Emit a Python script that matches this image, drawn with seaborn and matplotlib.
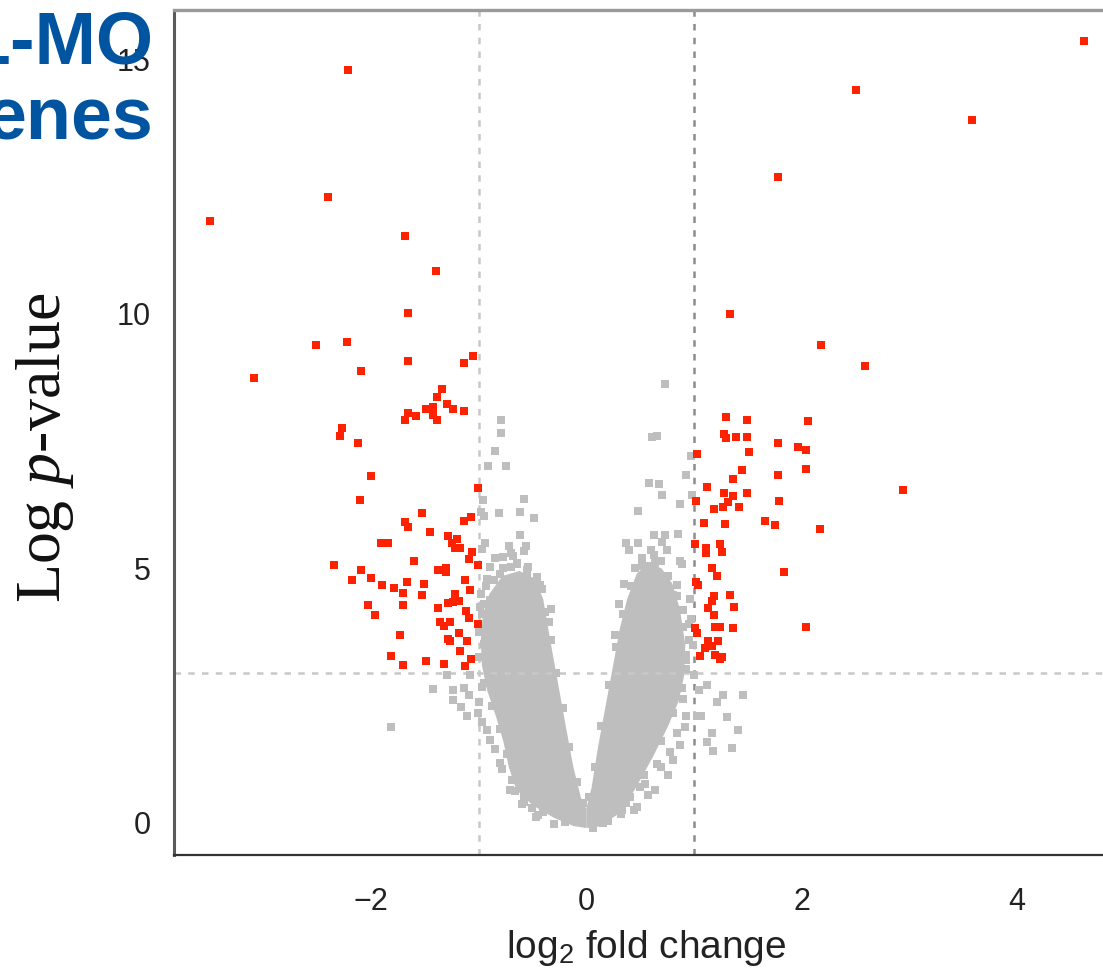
import matplotlib
matplotlib.use("Agg")
import matplotlib.pyplot as plt
import seaborn as sns
import pandas as pd

# ---------------- data ----------------
# significant genes (red)
sig_lfc = [-3.50, -2.40, -2.21, -1.68, -1.40, -1.66, -2.51, -2.22, -1.66, -1.14, -1.05, -3.09, -2.09,
           -1.34, -1.39, -1.49, -1.42, -1.29, -1.24, -1.14, -1.66, -1.68, -1.58, -1.42, -1.39, -2.27,
           -2.29, -2.12, -2.00, -2.10, -1.01, -1.53, -1.68, -1.66, -1.14, -1.07, -1.45, -1.91, -1.84,
           -1.28, -1.20, -1.25, -1.22, -1.17, -1.06, -1.09, -1.01, -1.60, -2.34, -2.09, -2.18, -2.00,
           -1.90, -1.79, -1.67, -1.51, -1.38, -1.30, -1.30, -1.13, -1.08, -1.70, -1.53, -1.22, -1.28,
           -1.24, -1.18, -2.03, -1.70, -1.38, -1.96, -1.12, -1.09, -1.01, -1.36, -1.32, -1.27, -1.73,
           -1.18, -1.28, -1.27, -1.11, -1.17, -1.81, -1.70, -1.49, -1.32, -1.13, -1.07,
           4.62, 2.51, 3.58, 1.78, 1.34, 2.18, 2.59, 2.94, 2.04, 2.17, 1.84, 2.06, 1.97, 2.04, 2.04,
           1.30, 1.49, 1.28, 1.30, 1.39, 1.49, 1.78, 1.03, 1.51, 1.45, 1.78, 1.36, 1.12, 1.28, 1.36,
           1.49, 1.79, 1.02, 1.32, 1.27, 1.19, 1.42, 1.66, 1.75, 1.09, 1.29, 1.01, 1.11, 1.11, 1.24,
           1.26, 1.17, 1.21, 1.02, 1.04, 1.19, 1.17, 1.34, 1.37, 1.13, 1.19, 1.01, 1.03, 1.20, 1.24,
           1.36, 1.13, 1.22, 1.10, 1.17, 1.06, 1.20, 1.24, 1.26]
sig_logp = [11.82, 12.29, 14.79, 11.53, 10.85, 10.01, 9.38, 9.45, 9.08, 9.03, 9.17, 8.74, 8.87,
            8.52, 8.37, 8.14, 8.18, 8.23, 8.14, 8.10, 8.05, 7.92, 7.99, 8.01, 7.92, 7.76,
            7.60, 7.46, 6.81, 6.35, 6.57, 6.09, 5.91, 5.81, 5.93, 6.01, 5.71, 5.50, 5.50,
            5.63, 5.58, 5.49, 5.41, 5.41, 5.33, 5.18, 5.07, 5.14, 5.06, 4.97, 4.78, 4.81,
            4.68, 4.62, 4.74, 4.69, 4.96, 5.01, 4.93, 4.77, 4.57, 4.52, 4.47, 4.50, 4.32,
            4.34, 4.36, 4.29, 4.29, 4.22, 4.08, 4.16, 4.03, 3.90, 3.94, 3.87, 3.94, 3.70,
            3.74, 3.62, 3.57, 3.57, 3.37, 3.27, 3.10, 3.19, 3.12, 3.08, 3.23,
            15.36, 14.39, 13.81, 12.68, 9.99, 9.38, 8.98, 6.55, 3.84, 5.78, 4.92, 7.90, 7.38, 7.32, 6.96,
            7.97, 7.91, 7.65, 7.57, 7.59, 7.59, 7.47, 7.24, 7.28, 6.94, 6.84, 6.75, 6.59, 6.48, 6.43,
            6.48, 6.32, 6.32, 6.30, 6.20, 6.17, 6.21, 5.94, 5.86, 5.90, 5.88, 5.48, 5.41, 5.31, 5.48,
            5.33, 5.01, 4.85, 4.73, 4.67, 4.45, 4.36, 4.48, 4.25, 4.23, 4.08, 3.82, 3.73, 3.84, 3.84,
            3.82, 3.57, 3.57, 3.44, 3.48, 3.27, 3.29, 3.23, 3.26]

# non-significant genes (grey), the ones around and outside the dense core
ns_lfc = [-0.79, -0.79, -0.85, -0.91, -0.75, -0.58, -0.96, -0.98, -0.95, -0.81, -0.62, -0.49, -0.62,
          -0.56, -0.58, -0.94, -0.97, -0.77, -0.64, -0.54, -0.89,
          0.73, 0.61, 0.66, 0.97, 0.93, 0.58, 0.68, 0.70, 0.98, 0.87, 0.48, 0.63, 0.73, 0.85,
          0.37, 0.48, 0.70, 0.40, 0.60, 0.75, 0.63, 0.69, 0.87,
          0.89, 0.84, 0.81, 0.90, 0.87, 0.93, 1.12, 1.05, 1.27, 1.46, 1.21, 0.90, 1.03, 1.07,
          1.31, 0.93, 1.41, 1.17, 1.12, 1.35, 1.18, 0.92, 0.84, 0.87, 0.81, 0.69, 0.76, 0.55,
          0.64, 0.41, 0.44, 0.32,
          -1.29, -1.42, -1.24, -1.14, -1.09, -1.24, -0.97, -1.16, -1.11, -1.01, -0.97, -0.92,
          -0.89, -0.75, -0.80, -0.71, -0.64, -1.08, -1.00, -0.89, -0.83, -0.98, -0.95, -0.97,
          -0.92, -0.95, -0.91, -0.83, -0.92, -0.86, -0.80, -0.77, -0.89, -0.80, -0.46, -0.55,
          -0.64, -0.43, -0.49, -0.38, -0.35,
          -1.81, 0.45, 0.52, 0.56, -0.70, -0.85, 0.95, 0.97, 0.96, 0.93, -0.45, -0.58,
          -0.68, -0.72, 0.30, 0.27, 0.35, -0.41, -0.33, 0.99, 0.95, 1.00,
          # edge points of the wings
          -0.20, -0.40, -0.58, -0.69, -0.74, -0.80, -0.88, -0.95, -1.00, -1.00, -0.99, -0.93,
          -0.70, -0.55, -0.44, -0.38, -0.33, -0.28, -0.22, -0.16, -0.09, -0.03,
          0.03, 0.08, 0.14, 0.21, 0.28, 0.34, 0.42, 0.52,
          0.64, 0.76, 0.84, 0.90, 0.93, 0.89, 0.81, 0.69, 0.54, 0.37, 0.20, 0.06,
          -0.30, -0.50, -0.66, -0.78, -0.85, -0.60, -0.47, 0.16, 0.33, 0.50, 0.66, 0.78, 0.57, 0.47]
ns_logp = [7.91, 7.67, 7.31, 7.02, 7.02, 6.37, 6.34, 6.11, 6.03, 6.09, 6.11, 6.00, 5.65,
           5.45, 5.34, 5.50, 5.39, 5.22, 5.11, 5.03, 5.03,
           8.62, 7.59, 7.61, 7.20, 6.84, 6.68, 6.66, 6.45, 6.45, 6.27, 6.13, 5.66, 5.66, 5.67,
           5.50, 5.50, 5.52, 5.36, 5.37, 5.37, 5.26, 5.14, 5.14,
           5.09, 4.67, 4.48, 4.18, 3.19, 3.03, 2.70, 2.61, 2.51, 2.51, 2.38, 2.44, 2.11, 2.11,
           2.08, 2.11, 1.82, 1.76, 1.59, 1.48, 1.41, 1.89, 1.76, 1.53, 1.23, 1.10, 0.94, 0.77,
           0.64, 0.51, 0.25, 0.18,
           2.90, 2.64, 2.61, 2.66, 2.51, 2.41, 2.67, 2.28, 2.11, 2.15, 1.98, 1.82,
           1.62, 1.79, 1.17, 0.64, 0.90, 2.90, 2.38, 2.84, 2.41, 4.50, 4.31, 4.11,
           3.85, 3.52, 3.33, 3.42, 4.80, 4.77, 4.90, 5.00, 4.37, 4.31, 4.83, 4.96,
           5.09, 4.67, 4.50, 4.14, 3.95,
           1.88, 5.00, 5.20, 5.05, 5.30, 5.20, 3.60, 4.00, 4.40, 3.30, 0.15, 0.42,
           5.25, 5.45, 4.30, 3.70, 4.70, 4.60, 4.20, 3.50, 3.90, 2.90,
           # edge points of the wings
           0.02, 0.22, 0.50, 0.85, 1.35, 1.85, 2.30, 2.75, 3.25, 3.75, 4.25, 4.65,
           5.02, 4.90, 4.60, 4.15, 3.60, 2.95, 2.25, 1.50, 0.80, 0.40,
           0.50, 1.10, 1.90, 2.70, 3.45, 4.10, 4.65, 5.05,
           5.10, 4.85, 4.45, 3.85, 3.20, 2.65, 2.15, 1.60, 0.95, 0.40, 0.03, -0.09,
           -0.02, 0.30, 0.62, 1.05, 1.45, 0.38, 0.12, 0.00, 0.25, 0.70, 1.15, 1.40, 0.55, 0.32]

# outlines of the dense grey cores of the two wings of the volcano
left_core_lfc = [0.00, -0.12, -0.30, -0.50, -0.65, -0.72, -0.77, -0.84, -0.92, -0.97, -0.98, -0.96,
                 -0.90, -0.78, -0.62, -0.48, -0.40, -0.36, -0.31, -0.25, -0.19, -0.12, -0.05, 0.00]
left_core_logp = [-0.10, -0.06, 0.10, 0.35, 0.65, 1.10, 1.60, 2.10, 2.60, 3.10, 3.60, 4.10,
                  4.50, 4.85, 4.95, 4.80, 4.40, 3.90, 3.30, 2.60, 1.90, 1.10, 0.50, 0.28]
right_core_lfc = [0.00, 0.05, 0.11, 0.18, 0.25, 0.31, 0.38, 0.47, 0.58, 0.70, 0.80, 0.87,
                  0.92, 0.91, 0.86, 0.76, 0.62, 0.45, 0.28, 0.12, 0.00]
right_core_logp = [0.28, 0.70, 1.50, 2.30, 3.10, 3.80, 4.40, 4.90, 5.10, 5.00, 4.70, 4.20,
                   3.50, 2.90, 2.40, 1.90, 1.30, 0.65, 0.15, -0.07, -0.10]

fc_cut = [-1.0, 1.0]
p_cut = 2.95
x_ticks = [-2, 0, 2, 4]
y_ticks = [0, 5, 10, 15]
title_lines = ["L-MO", "enes"]

# ---------------- plot ----------------
sns.set_theme(style="white")
plt.rcParams["font.family"] = ["Liberation Sans", "DejaVu Sans"]
plt.rcParams["mathtext.fontset"] = "custom"
plt.rcParams["mathtext.rm"] = "Liberation Sans"
plt.rcParams["mathtext.it"] = "Liberation Serif:italic"

fig = plt.figure(figsize=(11.03, 9.80), dpi=100)
ax = fig.add_axes([174 / 1103, 125 / 980, 944 / 1103, 845 / 980])

grey = "#BEBEBE"
red = "#FF2200"

ax.fill(left_core_lfc, left_core_logp, color=grey, lw=0, zorder=1)
ax.fill(right_core_lfc, right_core_logp, color=grey, lw=0, zorder=1)

ns = pd.DataFrame({"lfc": ns_lfc, "logp": ns_logp})
sig = pd.DataFrame({"lfc": sig_lfc, "logp": sig_logp})
sns.scatterplot(data=ns, x="lfc", y="logp", marker="s", s=32, color=grey,
                linewidth=0, ax=ax, zorder=2)
sns.scatterplot(data=sig, x="lfc", y="logp", marker="s", s=32, color=red,
                linewidth=0, ax=ax, zorder=3)

lw = 1.8
ax.axvline(fc_cut[0], color="#C8C8C8", lw=lw, ls=(0, (2.6, 2.9)), zorder=1.5)
ax.axvline(fc_cut[1], color="#8C8C8C", lw=lw, ls=(0, (2.6, 2.9)), zorder=1.5)
ax.axhline(p_cut, color="#C8C8C8", lw=lw, ls=(0, (2.6, 2.9)), zorder=1.5)

ax.set_xlim(-3.83, 4.94)
ax.set_ylim(-0.63, 15.97)
ax.set_xticks(x_ticks)
ax.set_yticks(y_ticks)

ax.spines["right"].set_visible(False)
ax.spines["top"].set_color("#9A9A9A")
ax.spines["top"].set_linewidth(2.4)
ax.spines["left"].set_color("#5A5A5A")
ax.spines["left"].set_linewidth(2.2)
ax.spines["bottom"].set_color("#333333")
ax.spines["bottom"].set_linewidth(1.6)

ax.tick_params(axis="both", direction="out", length=12, width=1.6, colors="#444444",
               labelcolor="#222222", labelsize=22)
ax.tick_params(axis="x", pad=11)
ax.tick_params(axis="y", pad=5)

ax.set_xlabel("log$_2$ fold change", fontsize=28, color="#222222", labelpad=8)
ax.set_ylabel("")
fig.text(45 / 1103, 1 - 448 / 980, "Log $p$-value", rotation=90, ha="center", va="center",
         fontsize=46, family="Liberation Serif", color="#111111")

ax.text(153 / 1103, 1 - 63 / 980, title_lines[0], transform=fig.transFigure, ha="right",
        va="baseline", fontsize=53, fontweight="bold", color="#0054A0", zorder=1, clip_on=False)
ax.text(153 / 1103, 1 - 140 / 980, title_lines[1], transform=fig.transFigure, ha="right",
        va="baseline", fontsize=53, fontweight="bold", color="#0054A0", zorder=1, clip_on=False)

fig.savefig("out.png", dpi=100)
